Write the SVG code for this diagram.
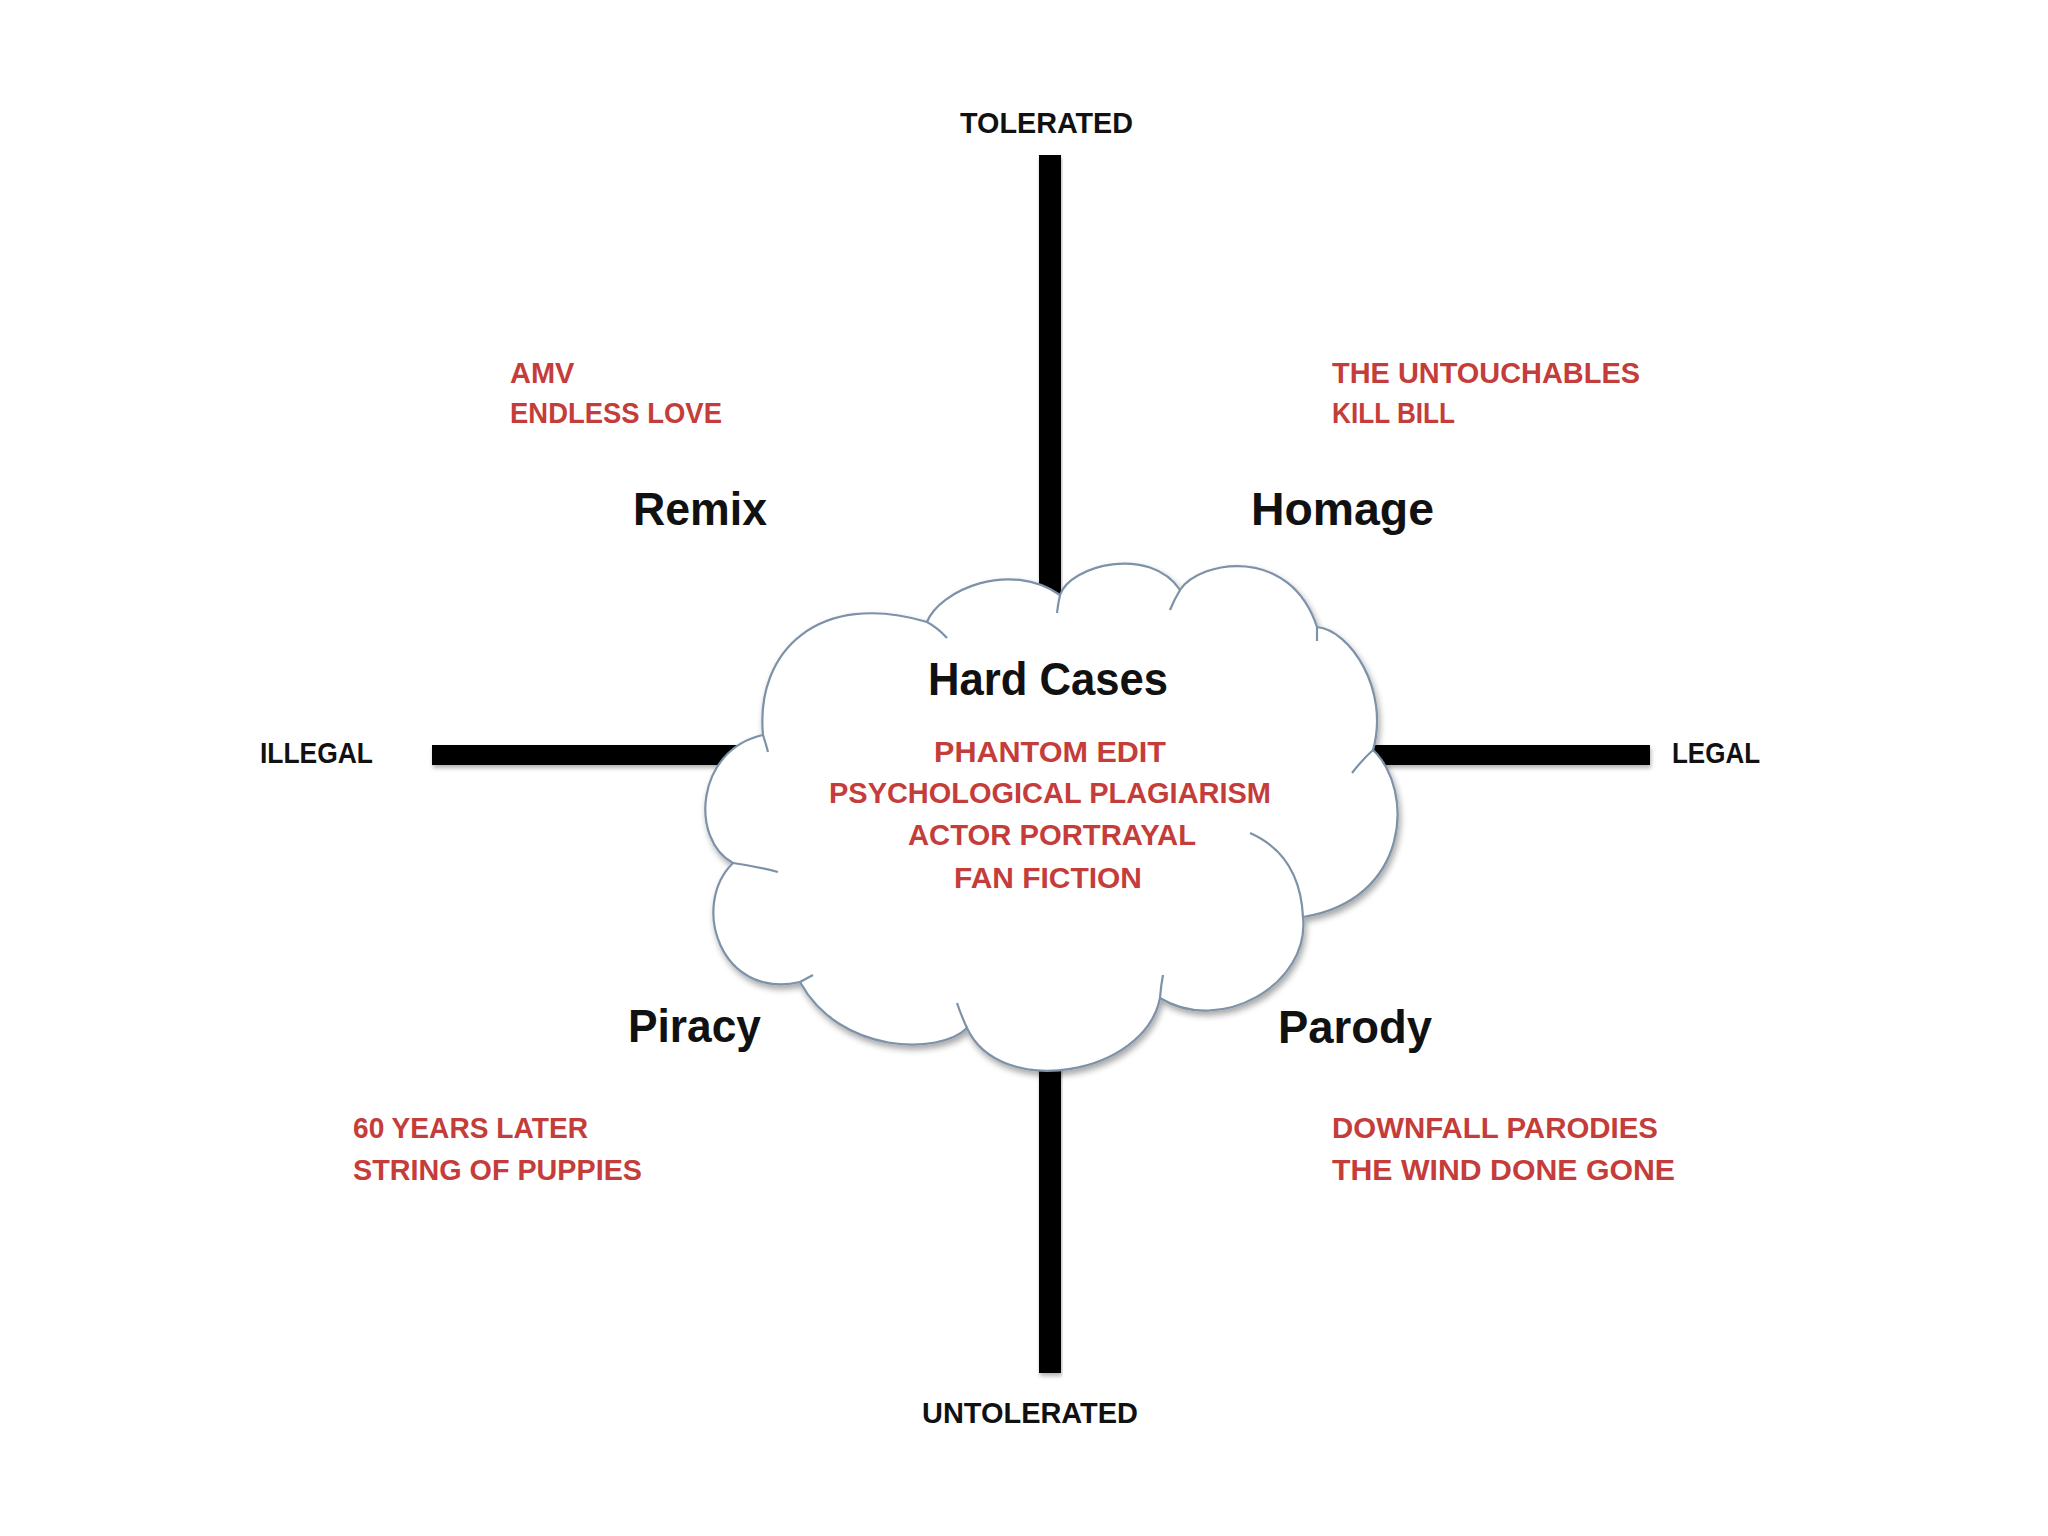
<svg xmlns="http://www.w3.org/2000/svg" width="2048" height="1536" viewBox="0 0 2048 1536">
  <defs>
    <filter id="shadow" x="-10%" y="-10%" width="130%" height="130%">
      <feDropShadow dx="2" dy="4" stdDeviation="3" flood-color="#000" flood-opacity="0.35"/>
    </filter>
    <filter id="barshadow" x="-5%" y="-20%" width="110%" height="160%">
      <feDropShadow dx="1" dy="3" stdDeviation="2" flood-color="#000" flood-opacity="0.3"/>
    </filter>
  </defs>
  <style>
    .axis { font-family: "Liberation Sans", Arial, sans-serif; font-weight: bold; font-size: 30px; fill: #111; }
    .cat { font-family: "Liberation Sans", Arial, sans-serif; font-weight: bold; font-size: 46px; fill: #111; }
    .ex { font-family: "Liberation Sans", Arial, sans-serif; font-weight: bold; font-size: 29px; fill: #c43d3a; }
    .bar { fill: #000; filter: url(#barshadow); }
    .cloud { fill: #fff; stroke: #7d91a8; stroke-width: 2.2; filter: url(#shadow); }
    .tick { fill: none; stroke: #7d91a8; stroke-width: 2.2; }
  </style>
  <rect width="2048" height="1536" fill="#fff"/>

  <g id="connectors">
    <rect class="bar" x="1039" y="155" width="22" height="470"/>
    <rect class="bar" x="1039" y="1050" width="22" height="323"/>
    <rect class="bar" x="432" y="745" width="310" height="20"/>
    <rect class="bar" x="1360" y="745" width="290" height="20"/>
  </g>

  <g id="axis-labels">
    <text class="axis" x="960" y="133" textLength="173" lengthAdjust="spacingAndGlyphs">TOLERATED</text>
    <text class="axis" x="922" y="1423" textLength="216" lengthAdjust="spacingAndGlyphs">UNTOLERATED</text>
    <text class="axis" x="260" y="763" textLength="113" lengthAdjust="spacingAndGlyphs">ILLEGAL</text>
    <text class="axis" x="1672" y="763" textLength="88" lengthAdjust="spacingAndGlyphs">LEGAL</text>
  </g>

  <g id="hard-cases">
    <path class="cloud" d="M763,735 C755,650 820,590 927,622 C940,590 1010,560 1060,595 C1070,565 1150,545 1180,590 C1200,560 1290,545 1317,627 C1350,630 1390,690 1373,750 C1415,790 1410,900 1303,917 C1310,985 1220,1035 1160,998 C1145,1075 1000,1100 967,1028 C940,1055 840,1055 800,982 C720,1000 690,905 733,863 C690,840 695,750 763,735 Z"/>
    <path class="tick" d="M763,735 Q766,744 768,752 M927,622 Q938,628 947,638 M1060,595 Q1058,604 1057,613 M1180,590 Q1174,600 1170,610 M1317,627 L1317,641 M1373,750 Q1362,760 1352,773 M1250,833 Q1300,855 1303,917 M1160,998 Q1161,985 1163,975 M967,1028 Q961,1015 957,1003 M800,982 L813,975 M733,863 Q755,866 778,872"/>
    <text class="cat" x="928" y="695" textLength="240" lengthAdjust="spacingAndGlyphs">Hard Cases</text>
    <text class="ex" x="934" y="762" textLength="232" lengthAdjust="spacingAndGlyphs">PHANTOM EDIT</text>
    <text class="ex" x="829" y="803" textLength="442" lengthAdjust="spacingAndGlyphs">PSYCHOLOGICAL PLAGIARISM</text>
    <text class="ex" x="908" y="845" textLength="288" lengthAdjust="spacingAndGlyphs">ACTOR PORTRAYAL</text>
    <text class="ex" x="954" y="888" textLength="188" lengthAdjust="spacingAndGlyphs">FAN FICTION</text>
  </g>

  <g id="remix">
    <text class="ex" x="510" y="383">AMV</text>
    <text class="ex" x="510" y="423" textLength="212" lengthAdjust="spacingAndGlyphs">ENDLESS LOVE</text>
    <text class="cat" x="633" y="525" textLength="134" lengthAdjust="spacingAndGlyphs">Remix</text>
  </g>

  <g id="homage">
    <text class="ex" x="1332" y="383" textLength="308" lengthAdjust="spacingAndGlyphs">THE UNTOUCHABLES</text>
    <text class="ex" x="1332" y="423" textLength="123" lengthAdjust="spacingAndGlyphs">KILL BILL</text>
    <text class="cat" x="1251" y="525" textLength="183" lengthAdjust="spacingAndGlyphs">Homage</text>
  </g>

  <g id="piracy">
    <text class="cat" x="628" y="1042" textLength="133" lengthAdjust="spacingAndGlyphs">Piracy</text>
    <text class="ex" x="353" y="1138" textLength="235" lengthAdjust="spacingAndGlyphs">60 YEARS LATER</text>
    <text class="ex" x="353" y="1180" textLength="289" lengthAdjust="spacingAndGlyphs">STRING OF PUPPIES</text>
  </g>

  <g id="parody">
    <text class="cat" x="1278" y="1043" textLength="154" lengthAdjust="spacingAndGlyphs">Parody</text>
    <text class="ex" x="1332" y="1138" textLength="326" lengthAdjust="spacingAndGlyphs">DOWNFALL PARODIES</text>
    <text class="ex" x="1332" y="1180" textLength="343" lengthAdjust="spacingAndGlyphs">THE WIND DONE GONE</text>
  </g>
</svg>
